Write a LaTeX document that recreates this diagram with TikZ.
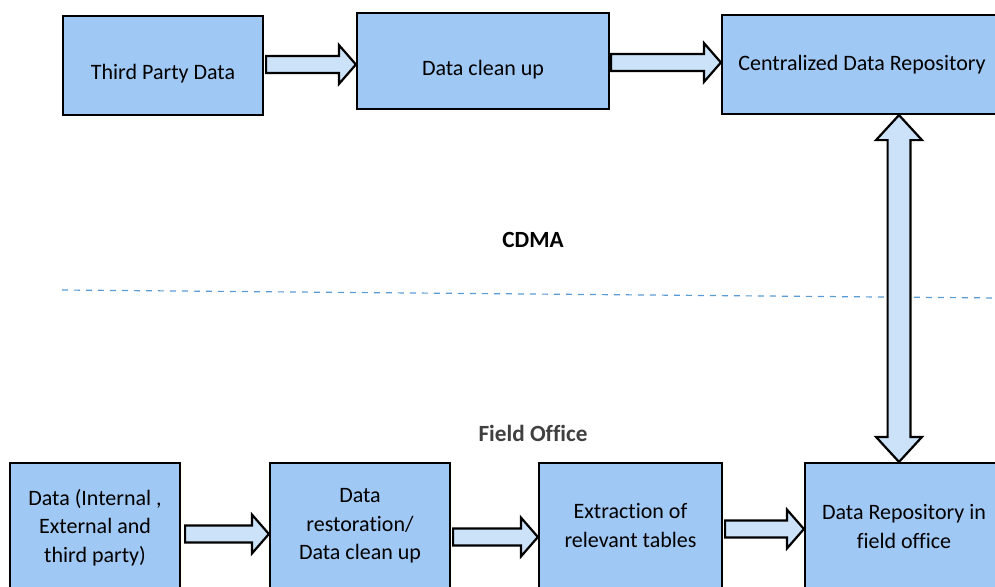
\documentclass[tikz,border=0pt]{standalone}
\usepackage{fontspec}
\setmainfont[Ligatures=NoCommon]{Carlito}
\usetikzlibrary{calc}

\definecolor{boxblue}{HTML}{A0C8F4}
\definecolor{arrowblue}{HTML}{CCE2F8}
\definecolor{lineblue}{HTML}{5B9BD5}

\tikzset{
  stagebox/.style={draw=black, line width=1.1pt, fill=boxblue, inner sep=0pt,
    align=center, font=\fontsize{11}{14.25}\selectfont},
  lowtext/.style={text height=16pt, text depth=2pt},
  blockarrow/.style={draw=black, line width=1.1pt, fill=arrowblue, line join=miter},
  zonelabel/.style={font=\fontsize{11.6}{13}\selectfont\bfseries}
}

% fat arrow from a start point to the west side of a box
\newcommand{\blockto}[2]{%
  \draw[blockarrow] let \p1=(#1), \p2=(#2) in
    (\x1,\y1+4.25pt) -- (\x2-8.5pt,\y1+4.25pt) -- (\x2-8.5pt,\y1+9.75pt) -- (\x2,\y1)
    -- (\x2-8.5pt,\y1-9.75pt) -- (\x2-8.5pt,\y1-4.25pt) -- (\x1,\y1-4.25pt) -- cycle;}

% fat double arrow, going down from #1 to #2
\newcommand{\bothways}[2]{%
  \draw[blockarrow] let \p1=(#1), \p2=(#2) in
    (\x1,\y1) -- (\x1+11.5pt,\y1-12.5pt) -- (\x1+5.7pt,\y1-12.5pt) -- (\x1+5.7pt,\y2+12.5pt)
    -- (\x1+11.5pt,\y2+12.5pt) -- (\x1,\y2) -- (\x1-11.5pt,\y2+12.5pt) -- (\x1-5.7pt,\y2+12.5pt)
    -- (\x1-5.7pt,\y1-12.5pt) -- (\x1-11.5pt,\y1-12.5pt) -- cycle;}

\begin{document}
\begin{tikzpicture}[x=0.5pt,y=-0.5pt]
\useasboundingbox (0,0) rectangle (995,586);
\clip (0,0) rectangle (995,586);

% CDMA side
\node[stagebox, lowtext, minimum width=100pt, minimum height=49.5pt] (third) at (163,65.5) {Third Party Data};
\node[stagebox, lowtext, minimum width=126pt, minimum height=48pt] (cleanup) at (483,61) {Data clean up};
\node[stagebox, minimum width=140pt, minimum height=49.5pt] (central) at (862,64.5) {Centralized Data Repository};

% field office side
\node[stagebox, minimum width=85pt, minimum height=64.5pt] (rawdata) at (95,527.5) {Data (Internal ,\\External and\\third party)};
\node[stagebox, minimum width=90pt, minimum height=63pt] (restore) at (360,526) {Data\\restoration/\\Data clean up};
\node[stagebox, minimum width=91.5pt, minimum height=62.5pt] (extract) at (630.5,525.5) {Extraction of\\relevant tables};
\node[stagebox, minimum width=99pt, minimum height=63.5pt] (fieldrepo) at (904,526.5) {Data Repository in\\field office};

\node[zonelabel] (cdma) at (533,240) {CDMA};
\node[zonelabel, text=black!75] (field) at (533,433) {Field Office};

\draw[lineblue, line width=0.6pt, dash pattern=on 3pt off 3pt] (62,290) -- (1000,298);

\blockto{$(third.east)+(2,-1)$}{cleanup.west}
\blockto{$(cleanup.east)+(1,1.5)$}{central.west}
\blockto{$(rawdata.east)+(4,6.5)$}{restore.west}
\blockto{$(restore.east)+(2,11)$}{extract.west}
\blockto{$(extract.east)+(2,3.5)$}{fieldrepo.west}

\bothways{$(central.south)+(37,0)$}{$(fieldrepo.north)+(37,0)$}
\end{tikzpicture}
\end{document}
